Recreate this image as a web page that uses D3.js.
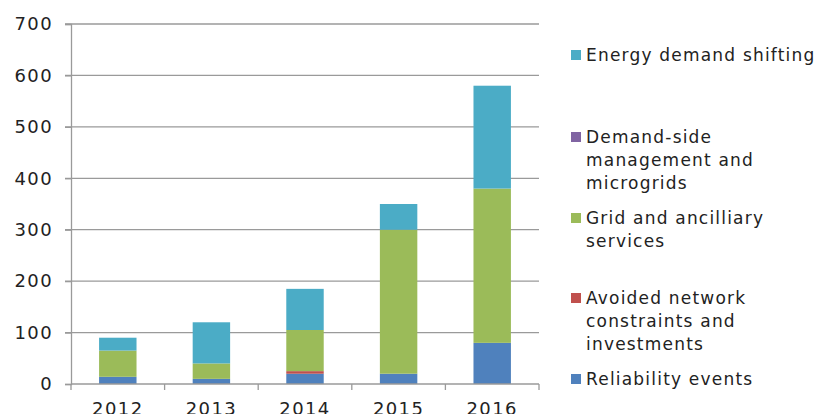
<!DOCTYPE html>
<html>
<head>
<meta charset="utf-8">
<script src="https://cdn.jsdelivr.net/npm/d3@7"></script>
<style>
  body { margin: 0; background: #fff; }
  svg { display: block; font-family: "DejaVu Sans", sans-serif; }
</style>
</head>
<body>
<div id="chart"></div>
<script>
// categories and series
const years = ['2012', '2013', '2014', '2015', '2016'];
const reliability = [14, 10, 20, 20, 80];
const avoidedNetwork = [0, 0, 5, 0, 0];
const gridAncillary = [51, 30, 80, 280, 300];
const demandSide = [0, 0, 0, 0, 0];
const energyShifting = [25, 80, 80, 50, 200];
const yTicks = [0, 100, 200, 300, 400, 500, 600, 700];

const seriesNames = [
    'Reliability events',
    'Avoided network constraints and investments',
    'Grid and ancilliary services',
    'Demand-side management and microgrids',
    'Energy demand shifting'
];
const seriesValues = [reliability, avoidedNetwork, gridAncillary, demandSide, energyShifting];
const seriesColors = ['#4f81bd', '#c0504d', '#9bbb59', '#8064a2', '#4bacc6'];
// legend lines, top to bottom
const legendLines = [
    ['Energy demand shifting'],
    ['Demand-side', 'management and', 'microgrids'],
    ['Grid and ancilliary', 'services'],
    ['Avoided network', 'constraints and', 'investments'],
    ['Reliability events']
];

const size = { width: 817, height: 414 };
const plot = { left: 71, right: 539, top: 24, bottom: 384 };
const axisText = { size: '18px', spacing: '1.4px', color: '#222' };
const legendText = { size: '17px', spacing: '1.2px', color: '#222' };

const rows = years.map((y, i) => {
    const r = { year: y };
    seriesNames.forEach((n, k) => { r[n] = seriesValues[k][i]; });
    return r;
});
const stacked = d3.stack().keys(seriesNames)(rows);

const xScale = d3.scaleBand()
    .domain(years)
    .range([plot.left, plot.right])
    .paddingInner(0.6)
    .paddingOuter(0.3);
const yScale = d3.scaleLinear()
    .domain([0, 700])
    .range([plot.bottom, plot.top]);

const svg = d3.select('#chart')
    .append('svg')
    .attr('width', size.width)
    .attr('height', size.height);

// gridlines
svg.append('g')
    .selectAll('line')
    .data(yTicks.filter(t => t > 0))
    .join('line')
    .attr('x1', plot.left - 6)
    .attr('x2', plot.right)
    .attr('y1', d => yScale(d))
    .attr('y2', d => yScale(d))
    .style('stroke', '#9a9a9a')
    .style('stroke-width', 1.3);

// y axis
const yAxis = svg.append('g')
    .attr('transform', 'translate(' + plot.left + ',0)')
    .call(d3.axisLeft(yScale).tickValues(yTicks).tickSize(6).tickPadding(12));
yAxis.select('.domain').style('stroke', '#9a9a9a').style('stroke-width', 1.3);
yAxis.selectAll('.tick line').style('stroke', '#9a9a9a').style('stroke-width', 1.3);
yAxis.selectAll('.tick text')
    .style('font-size', axisText.size)
    .style('letter-spacing', axisText.spacing)
    .style('fill', axisText.color)
    .style('font-family', '"DejaVu Sans", sans-serif');

// bars
svg.append('g')
    .selectAll('g')
    .data(stacked)
    .join('g')
    .style('fill', (d, i) => seriesColors[i])
    .selectAll('rect')
    .data(d => d)
    .join('rect')
    .attr('x', d => xScale(d.data.year))
    .attr('width', xScale.bandwidth())
    .attr('y', d => yScale(d[1]))
    .attr('height', d => yScale(d[0]) - yScale(d[1]));

// x axis
const xTickPos = years.map(y => xScale(y) - xScale.step() * xScale.paddingInner() / 2);
const xAxisG = svg.append('g');
xAxisG.append('line')
    .attr('x1', plot.left).attr('x2', plot.right)
    .attr('y1', plot.bottom).attr('y2', plot.bottom)
    .style('stroke', '#9a9a9a').style('stroke-width', 1.3);
xAxisG.selectAll('.xtick')
    .data(xTickPos.concat([plot.right]))
    .join('line')
    .attr('class', 'xtick')
    .attr('x1', d => d).attr('x2', d => d)
    .attr('y1', plot.bottom).attr('y2', plot.bottom + 6)
    .style('stroke', '#9a9a9a').style('stroke-width', 1.3);
xAxisG.selectAll('text')
    .data(years)
    .join('text')
    .attr('x', d => xScale(d) + xScale.bandwidth() / 2)
    .attr('y', plot.bottom + 31)
    .attr('text-anchor', 'middle')
    .style('font-size', axisText.size)
    .style('letter-spacing', axisText.spacing)
    .style('fill', axisText.color)
    .text(d => d);

// legend
const legendTop = [55, 137, 218, 298, 379];
const legendColors = seriesColors.slice().reverse();
const legend = svg.append('g');
legendLines.forEach((lines, i) => {
    const y0 = legendTop[i];
    legend.append('rect')
        .attr('x', 571)
        .attr('y', y0 - 5)
        .attr('width', 10)
        .attr('height', 10)
        .style('fill', legendColors[i]);
    lines.forEach((t, j) => {
        legend.append('text')
            .attr('x', 586)
            .attr('y', y0 + 6 + j * 23)
            .style('font-size', legendText.size)
            .style('letter-spacing', legendText.spacing)
            .style('fill', legendText.color)
            .text(t);
    });
});
</script>
</body>
</html>
